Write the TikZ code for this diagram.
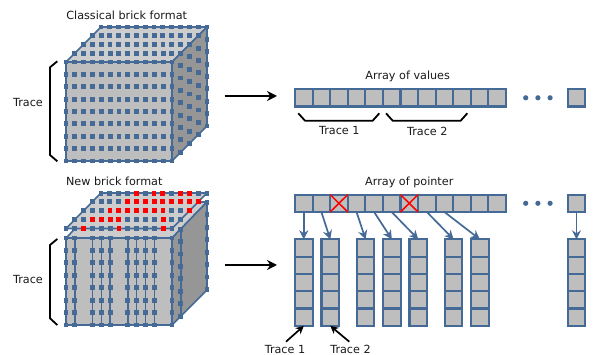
\documentclass[tikz,border=0pt]{standalone}
\usepackage{fontspec}
\setmainfont{DejaVu Sans}
\usetikzlibrary{arrows.meta}
\definecolor{bl}{HTML}{456A96}
\definecolor{cg}{HTML}{BEBEBE}
\definecolor{tg}{HTML}{CDCDCD}
\definecolor{sg}{HTML}{969696}
\tikzset{
  txt/.style={inner sep=0pt,font=\fontsize{11.2}{13}\selectfont,text=black!90},
  cell/.style={draw=bl,fill=cg,line width=2.1pt,inner sep=0pt,outer sep=0pt,minimum width=17.6pt,minimum height=17.4pt},
  ccell/.style={draw=bl,fill=cg,line width=2.1pt,inner sep=0pt,outer sep=0pt,minimum width=17.6pt,minimum height=17.3pt},
  edge/.style={draw=bl,line width=1.6pt,line join=round},
  bigarrow/.style={black,line width=2.2pt,-{Stealth[length=10pt,width=10pt]}},
  ptr/.style={draw=bl,line width=1.7pt,-{Stealth[length=9pt,width=9pt]}},
  tracearrow/.style={black,line width=1.7pt,-{Stealth[length=8pt,width=8pt]}},
  brace/.style={black,line width=1.8pt,line join=round},
  dotc/.style={fill=bl},
}
\newcommand{\sqr}[3]{\fill[#3] (#1-2.45,#2-2.45) rectangle (#1+2.45,#2+2.45);}
\begin{document}
\begin{tikzpicture}[x=1pt,y=-1pt]
\useasboundingbox (0,0) rectangle (598,355);
%% ---- classical cube
\filldraw[edge,fill=tg] (66,62) -- (172,62) -- (207,27) -- (101,27) -- cycle;
\filldraw[edge,fill=sg] (172,62) -- (207,27) -- (207,126) -- (172,161) -- cycle;
\filldraw[edge,fill=cg] (66,62) rectangle (172,161);
\foreach \r in {0,...,4}{\foreach \c in {0,...,12}{
  \pgfmathsetmacro\xx{66+8.83*\c+8.75*\r}\pgfmathsetmacro\yy{62-8.75*\r}
  \sqr{\xx}{\yy}{bl}}}
\foreach \r in {0,...,8}{\foreach \c in {0,...,12}{
  \pgfmathsetmacro\xx{66+8.83*\c}\pgfmathsetmacro\yy{62+12.38*\r}
  \sqr{\xx}{\yy}{bl}}}
\foreach \r in {0,...,8}{\foreach \d in {1,...,4}{
  \pgfmathsetmacro\xx{172+8.75*\d}\pgfmathsetmacro\yy{62+12.38*\r-8.75*\d}
  \sqr{\xx}{\yy}{bl}}}
%% ---- new cube
\filldraw[edge,fill=tg] (66,238) -- (172,238) -- (207,202) -- (101,202) -- cycle;
\filldraw[edge,fill=sg] (172,238) -- (207,202) -- (207,290) -- (172,325) -- cycle;
\filldraw[edge,fill=cg] (66,238) rectangle (172,325);
\foreach \c in {0,1,3,4,5,7,8,9,10,12}{
  \pgfmathsetmacro\xx{66+8.83*\c}
  \draw[edge] (\xx,238) -- (\xx,325);
  \foreach \r in {0,...,7}{
    \pgfmathsetmacro\yy{238+12.43*\r}
    \sqr{\xx}{\yy}{bl}}}
\draw[edge] (180.8,229) -- (180.8,316);
\foreach \d in {1,4}{\foreach \r in {0,...,7}{
  \pgfmathsetmacro\xx{172+8.75*\d}\pgfmathsetmacro\yy{238+12.43*\r-8.9*\d}
  \sqr{\xx}{\yy}{bl}}}
%% floating plate
\filldraw[edge,fill=tg] (66,228.5) -- (172,228.5) -- (207,193) -- (101,193) -- cycle;
\foreach \r in {0,...,4}{\foreach \c in {0,...,12}{
  \pgfmathsetmacro\xx{66+8.83*\c+8.75*\r}\pgfmathsetmacro\yy{228.5-8.85*\r}
  \sqr{\xx}{\yy}{bl}}}
\foreach \r/\lst in {0/{2,6,11},1/{2,3,4,5,10},2/{3,4,5,6,7,8,9,12},3/{4,5,6,7,8,9,10,11,12},4/{4,6,7,9,10}}{
  \foreach \c in \lst {
    \pgfmathsetmacro\xx{66+8.83*\c+8.75*\r}\pgfmathsetmacro\yy{228.5-8.85*\r}
    \sqr{\xx}{\yy}{red}}}
%% ---- titles
\node[txt] (t1) at (126.7,15) {Classical brick format};
\node[txt] (t2) at (114.3,181.5) {New brick format};
\node[txt] (t3) at (407.7,76.8) {Array of values};
\node[txt] (t4) at (409.3,182.5) {Array of pointer};
\node[txt] (tr1) at (28,102.7) {Trace};
\node[txt] (tr2) at (28,279) {Trace};
%% ---- left brackets
\coordinate (ba) at (57.3,61.3); \coordinate (bb) at (57.3,161.3);
\coordinate (bc) at (57.3,239); \coordinate (bd) at (57.3,325);
\draw[brace] (ba) -- (50,67.3) -- (50,155) -- (bb);
\draw[brace] (bc) -- (50,245) -- (50,318.3) -- (bd);
%% ---- arrows between
\coordinate (a1s) at (224.5,96); \coordinate (a1e) at (277,96);
\coordinate (a2s) at (224.5,265); \coordinate (a2e) at (277,265);
\draw[bigarrow] (a1s) -- (a1e);
\draw[bigarrow] (a2s) -- (a2e);
%% ---- array of values
\foreach \i in {0,...,11}{
  \pgfmathsetmacro\xx{303.8+17.58*\i}
  \node[cell,anchor=center] (v\i) at (\xx,97.8) {};
  \node[cell,anchor=center] (p\i) at (\xx,203.3) {};
}
\node[cell] (vl) at (576.5,97.8) {};
\node[cell] (pl) at (576.5,203.3) {};
\foreach \x in {525.7,537.9,550.1}{
  \fill[dotc] (\x,97.8) circle (2.6);
  \fill[dotc] (\x,203.3) circle (2.6);
}
%% ---- red crosses
\foreach \n in {p2,p6}{
  \draw[red,line width=1.5pt] (\n.north west) -- (\n.south east) (\n.north east) -- (\n.south west);
}
%% ---- braces under array
\draw[brace] (298.3,113.3) -- (305,120.7) -- (372.7,120.7) -- (379.3,113.3);
\draw[brace] (386,113.3) -- (392.7,120.7) -- (460.7,120.7) -- (467.3,113.3);
\node[txt] (l1) at (339.3,131) {Trace 1};
\node[txt] (l2) at (427.3,131) {Trace 2};
%% ---- columns
\foreach \k/\cx in {a/303.8,b/330.3,c/365.6,d/391.9,e/418.3,f/453.6,g/479.9,h/576.5}{
  \foreach \j in {0,...,4}{
    \pgfmathsetmacro\yy{248+17.3*\j}
    \node[ccell] (\k\j) at (\cx,\yy) {};
  }
}
\foreach \src/\dst in {p0/a0,p1/b0,p3/c0,p4/d0,p5/e0,p7/f0,p8/g0,pl/h0}{
  \draw[ptr] (\src.south) -- (\dst.north);
}
%% ---- trace labels
\node[txt] (l3) at (285,349) {Trace 1};
\node[txt] (l4) at (350.5,349) {Trace 2};
\coordinate (s3) at (286,341.7); \coordinate (s4) at (349.3,341.7);
\draw[tracearrow] (s3) -- (a4.south);
\draw[tracearrow] (s4) -- (b4.south);
\end{tikzpicture}
\end{document}
